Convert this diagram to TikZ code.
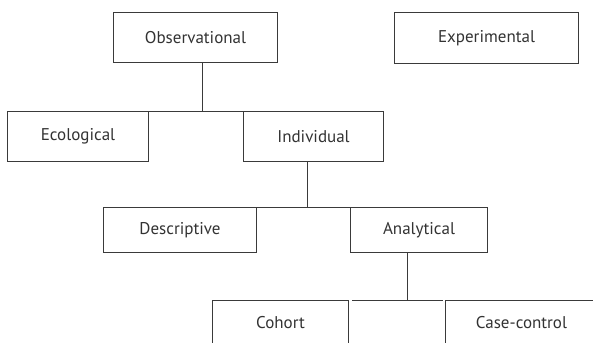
\documentclass[tikz,border=0pt]{standalone}
\usepackage{fontspec}
\setmainfont{PT Sans}
\usetikzlibrary{positioning}
\definecolor{inkline}{HTML}{3A3A3A}
\definecolor{inktext}{HTML}{333333}
\tikzset{
  box/.style={draw=inkline, line width=1pt, fill=white, text=inktext,
    font=\fontsize{17}{20}\selectfont, anchor=north west, inner sep=0pt},
  link/.style={draw=inkline, line width=1pt},
}
\begin{document}
\begin{tikzpicture}[x=1pt, y=-1pt]
  \useasboundingbox (0,0) rectangle (593,342);
  \clip (0,0) rectangle (593,342);
  % top level
  \node[box, minimum width=164pt, minimum height=50pt] (obs) at (113,12) {Observational};
  \node[box, minimum width=184pt, minimum height=51pt] (exp) at (394,12) {Experimental};
  % second level
  \node[box, minimum width=141pt, minimum height=50pt] (eco) at (7,111) {Ecological};
  \node[box, minimum width=140pt, minimum height=50pt] (ind) at (243,111) {Individual};
  % third level
  \node[box, minimum width=153pt, minimum height=45pt] (des) at (103,207) {Descriptive};
  \node[box, minimum width=137pt, minimum height=45pt] (ana) at (350,207) {Analytical};
  % fourth level, running off the lower edge
  \node[box, minimum width=136pt, minimum height=45pt] (coh) at (212,300) {Cohort};
  \node[box, minimum width=152pt, minimum height=45pt] (cc) at (445,300) {Case-control};
  % junction points
  \coordinate (j1) at (202,111);
  \coordinate (j2) at (307,207);
  \coordinate (j3) at (407,300);
  % connectors
  \draw[link] (obs.south -| j1) -- (j1);
  \draw[link] (eco.north east) -- (ind.north west);
  \draw[link] (ind.south -| j2) -- (j2);
  \draw[link] (des.north east) -- (ana.north west);
  \draw[link] (ana.south -| j3) -- (j3);
  \draw[link] ([xshift=3pt]coh.north east) -- ([xshift=-2pt]cc.north west);
\end{tikzpicture}
\end{document}
